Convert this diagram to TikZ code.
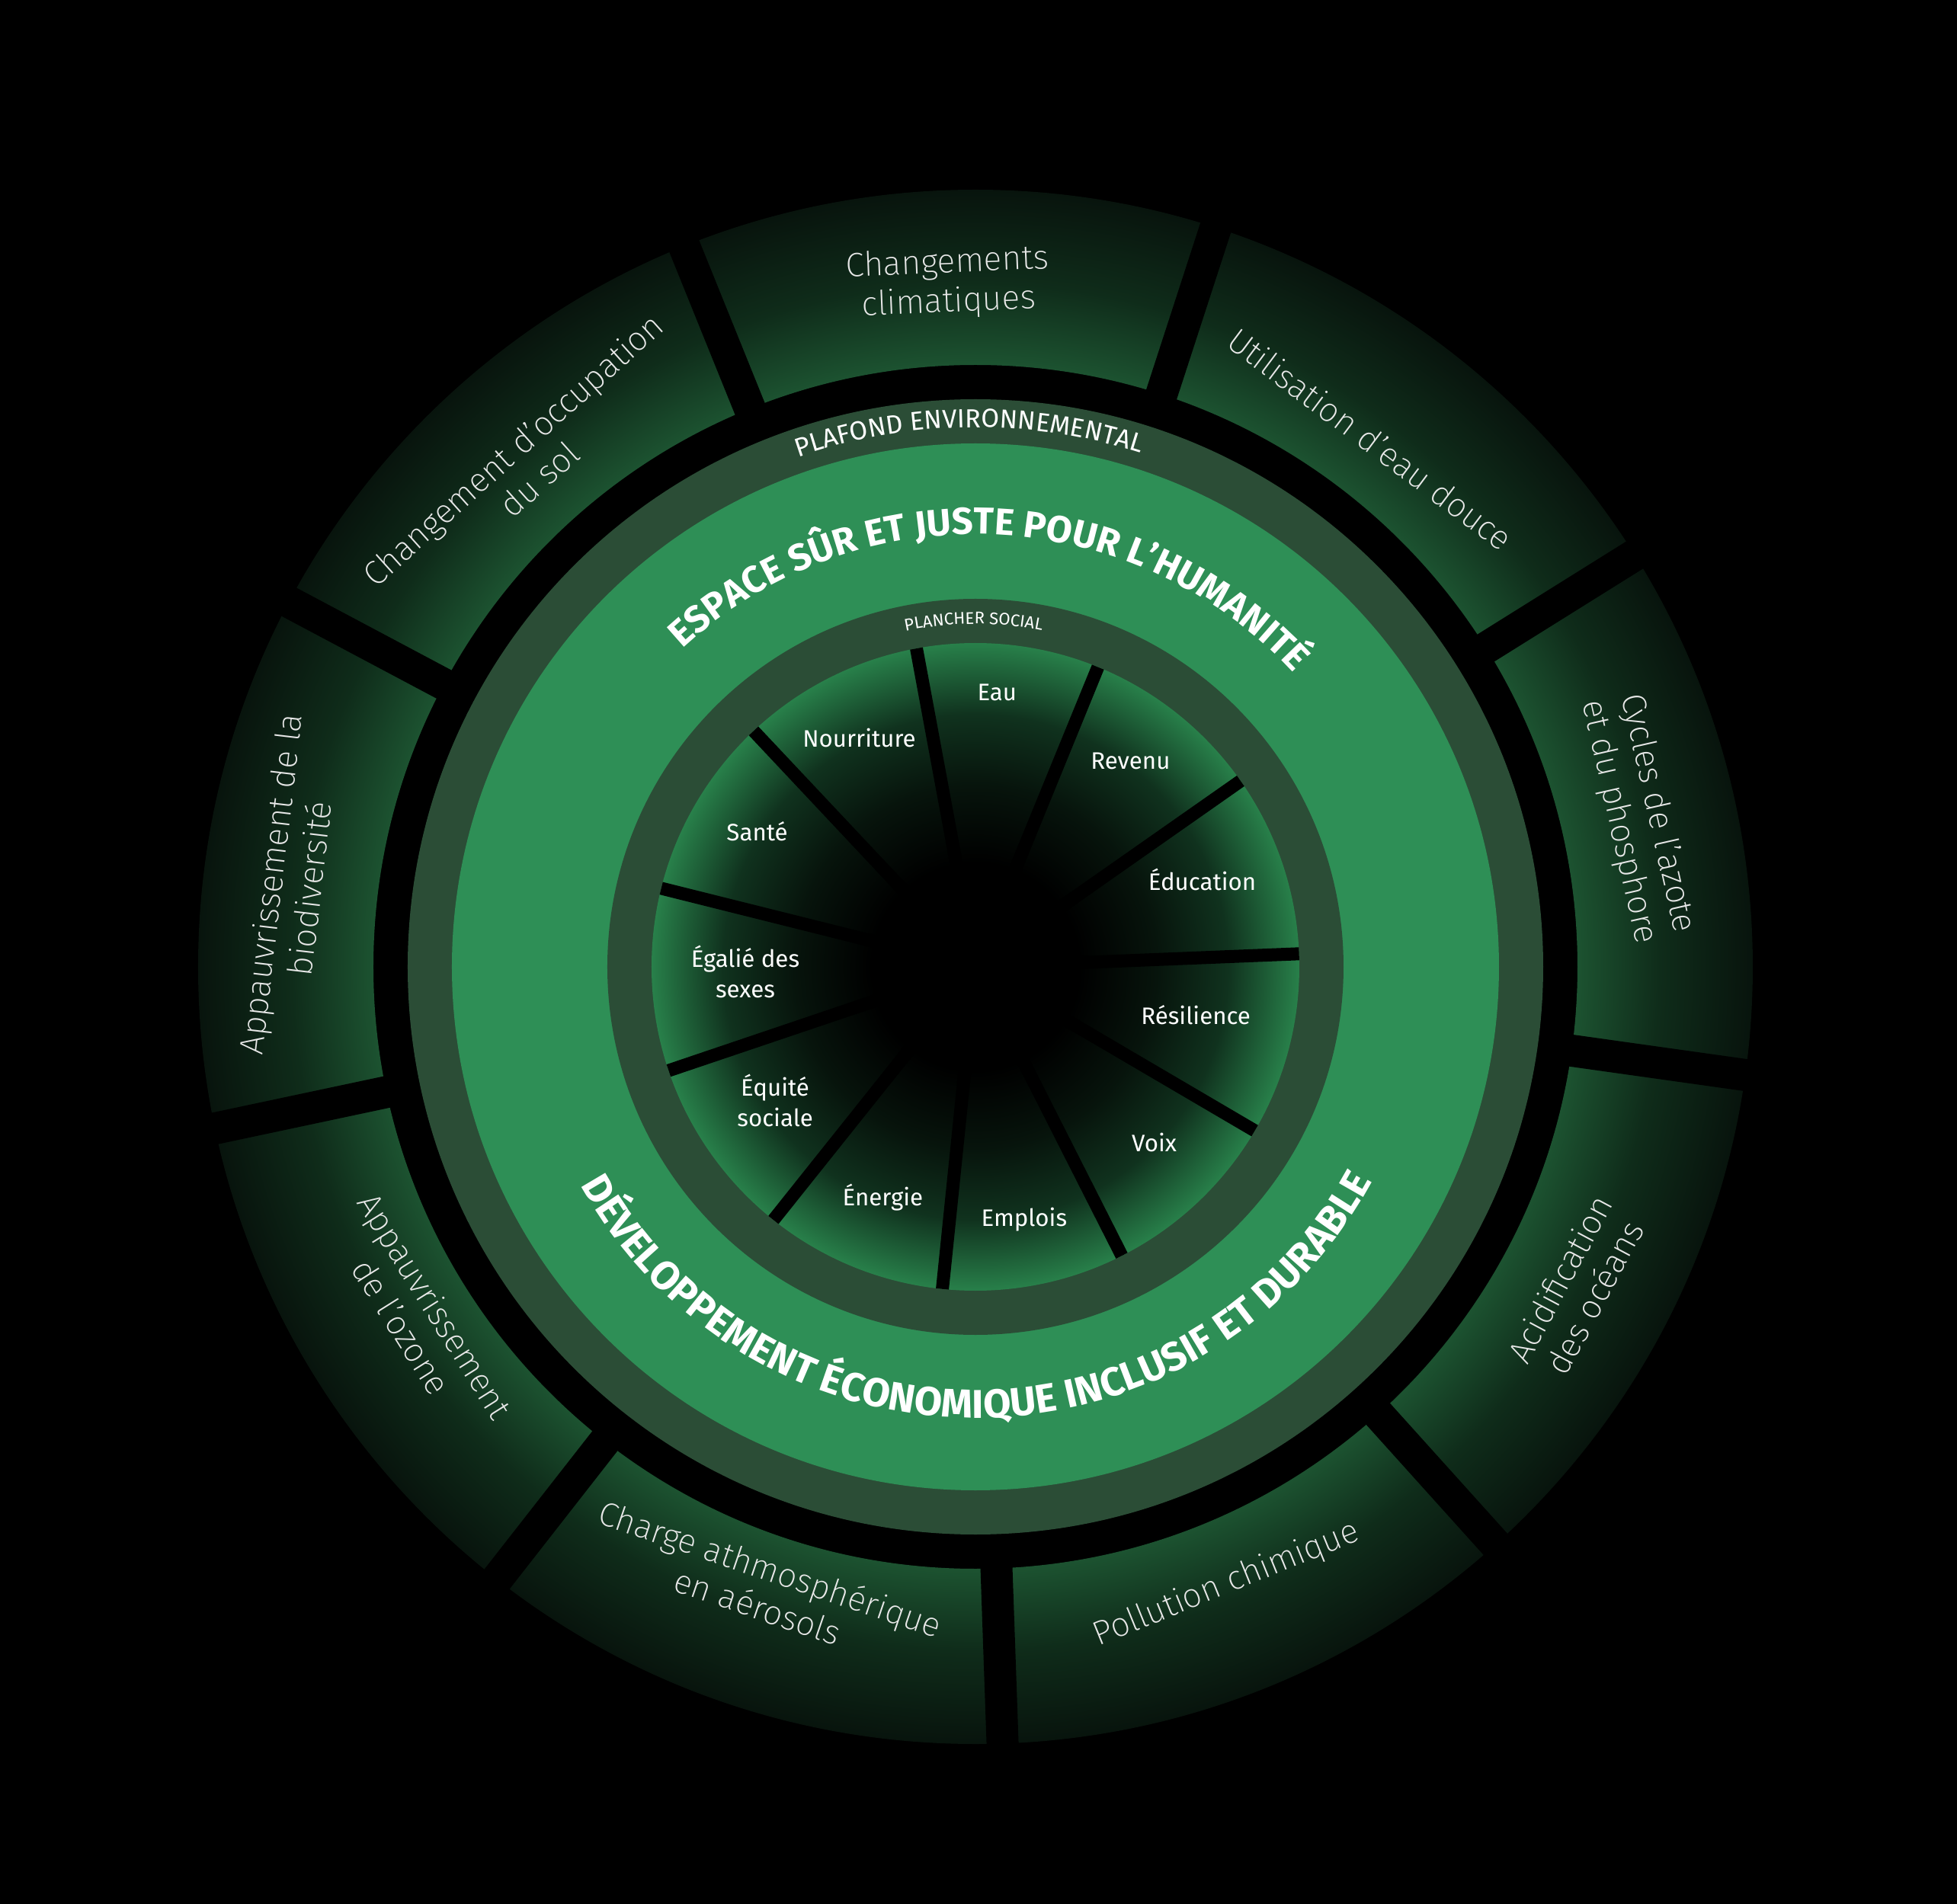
\documentclass[tikz,border=0pt]{standalone}
\usepackage{fontspec}
\setmainfont{Fira Sans}
\newfontfamily\lightfont{Fira Sans ExtraLight}
\usepackage{xcolor}
\usetikzlibrary{decorations.text}

\definecolor{ringgreen}{RGB}{46,143,86}
\definecolor{bandgreen}{RGB}{43,77,54}
\definecolor{wedgegreen}{RGB}{40,128,74}
\definecolor{wedgedark}{RGB}{16,50,30}
\definecolor{wedgedeep}{RGB}{7,20,12}
\definecolor{segin}{RGB}{28,82,48}
\definecolor{segmid}{RGB}{15,44,26}
\definecolor{segout}{RGB}{8,20,13}
\definecolor{labelgrey}{RGB}{232,232,232}

\pgfdeclareradialshading{socialglow}{\pgfpoint{0bp}{0bp}}{color(0bp)=(black); color(8bp)=(black); color(14bp)=(wedgedeep); color(19.5bp)=(wedgedark); color(25bp)=(wedgegreen); color(50bp)=(wedgegreen)}
\pgfdeclareradialshading{boundaryglow}{\pgfpoint{0bp}{0bp}}{color(0bp)=(segin); color(19.4bp)=(segin); color(22bp)=(segmid); color(25bp)=(segout); color(50bp)=(segout)}

\begin{document}
\begin{tikzpicture}[
    ringlabel/.style={
        text=white,
        align=center,
        font=\fontsize{8.9}{11.5}\selectfont
    },
    boundarylabel/.style={
        text=labelgrey,
        align=center,
        font=\lightfont\fontsize{12.6}{14.8}\selectfont
    },
    gapline/.style={black, line width=0.42cm},
    spoke/.style={black, line width=0.17cm}
]

\fill[black] (-12.80,-12.30) rectangle (12.88,12.69);
\useasboundingbox (-12.80,-12.30) rectangle (12.88,12.69);

\path[shading=boundaryglow, even odd rule] (0,0) circle (10.2) (0,0) circle (7.9);
\foreach \ang in {112,72,...,-208}
    \draw[gapline] (\ang:7.7) -- (\ang:10.4);

\fill[bandgreen] (0,0) circle (7.45);
\fill[ringgreen] (0,0) circle (6.87);
\fill[bandgreen] (0,0) circle (4.83);
\path[shading=socialglow] (0,0) circle (4.25);
\foreach \k in {0,...,10}
    \draw[spoke] ({100.5-32.727*\k}:1.2) -- ({100.5-32.727*\k}:4.25);

\path[decorate, decoration={text along path, text align=center, text color=white,
    text={|\fontsize{9.8}{9.8}\selectfont|PLAFOND ENVIRONNEMENTAL}}]
    (180.7:7.08) arc[start angle=180.7, end angle=0.7, radius=7.08];
\path[decorate, decoration={text along path, text align=center, text color=white,
    text={|\fontsize{6.3}{6.3}\selectfont|PLANCHER SOCIAL}}]
    (180.3:4.50) arc[start angle=180.3, end angle=0.3, radius=4.50];
\path[decorate, decoration={text along path, text align=center, text color=white,
    text={|\bfseries\fontsize{14}{14}\selectfont|ESPACE SÛR ET JUSTE POUR L’HUMANITÉ}}]
    (177.7:5.68) arc[start angle=177.7, end angle=-2.3, radius=5.68];
\path[decorate, decoration={text along path, text align=center, text color=white,
    text={|\bfseries\fontsize{15}{15}\selectfont|DÉVELOPPEMENT ÉCONOMIQUE INCLUSIF ET DURABLE}}]
    (180.25:5.92) arc[start angle=180.25, end angle=360.25, radius=5.92];

\foreach \ang/\rad/\txt [count=\i] in {
    85.5/3.61/Eau,
    53/3.38/Revenu,
    21.1/3.19/Éducation,
    -12.3/2.96/Résilience,
    -44.5/3.29/Voix,
    -79.1/3.38/Emplois,
    -111.9/3.26/Énergie,
    -146.3/3.16/{Équité\\sociale},
    181.2/3.02/{Égalié des\\sexes},
    148.2/3.37/Santé,
    116.9/3.37/Nourriture}
    \node[ringlabel] (social\i) at (\ang:\rad) {\txt};

\foreach \ang/\rad/\rot/\txt [count=\i] in {
    92.3/8.98/2.3/{Changements\\climatiques},
    53.2/8.65/-36.8/{Utilisation d’eau douce},
    12.7/8.91/-77.3/{Cycles de l’azote\\et du phosphore},
    -28.1/8.95/61.9/{Acidification\\des océans},
    -67.9/8.75/22.1/{Pollution chimique},
    -108.8/8.60/-18.8/{Charge athmosphérique\\en aérosols},
    -147.9/8.63/-57.9/{Appauvrissement\\de l’ozone},
    173.3/9.06/83.3/{Appauvrissement de la\\biodiversité},
    131.8/8.85/41.8/{Changement d’occupation\\du sol}}
    \node[boundarylabel, rotate=\rot] (boundary\i) at (\ang:\rad) {\txt};

\end{tikzpicture}
\end{document}
